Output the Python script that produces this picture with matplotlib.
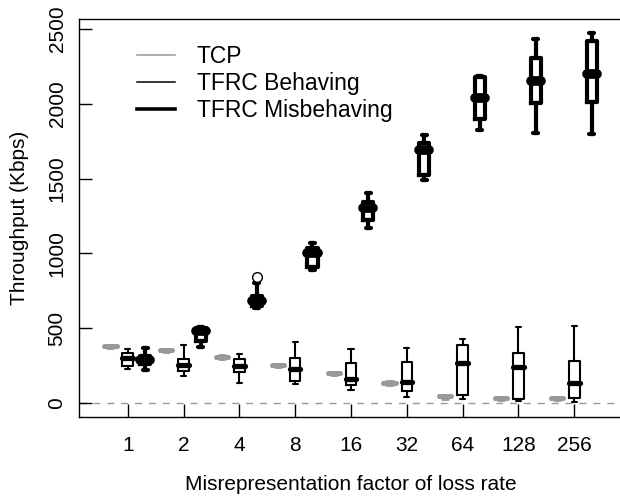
import numpy as np
import matplotlib
matplotlib.use("Agg")
import matplotlib.pyplot as plt
from matplotlib.lines import Line2D

plt.rcParams['font.family'] = ['Liberation Sans', 'DejaVu Sans']

factors = ['1', '2', '4', '8', '16', '32', '64', '128', '256']

# box stats per factor (Kbps): lower whisker, q1, median, q3, upper whisker
tcp_lo  = [366, 339, 292, 239, 188, 122, 28, 18, 20]
tcp_q1  = [372, 345, 299, 245, 194, 128, 40, 25, 27]
tcp_med = [378, 351, 307, 251, 200, 134, 46, 31, 33]
tcp_q3  = [384, 357, 315, 257, 206, 140, 52, 36, 38]
tcp_hi  = [388, 361, 320, 261, 210, 144, 56, 39, 41]

beh_lo  = [229, 182, 136, 129, 87, 42, 27, 15, 9]
beh_q1  = [247, 216, 209, 149, 120, 80, 53, 25, 31]
beh_med = [299, 254, 247, 227, 160, 138, 265, 243, 136]
beh_q3  = [336, 292, 292, 299, 269, 276, 388, 332, 283]
beh_hi  = [361, 388, 325, 410, 359, 370, 426, 510, 517]

mis_lo  = [220, 376, 635, 889, 1168, 1491, 1825, 1803, 1798]
mis_q1  = [262, 415, 650, 911, 1223, 1524, 1896, 2003, 2010]
mis_med = [287, 480, 682, 1005, 1301, 1691, 2041, 2154, 2199]
mis_q3  = [316, 500, 715, 1036, 1346, 1740, 2177, 2304, 2422]
mis_hi  = [366, 510, 800, 1071, 1406, 1791, 2188, 2431, 2471]
mis_out = [[], [], [844], [], [], [], [], [], []]

grey = '#999999'


def make_stats(lo, q1, med, q3, hi, out=None):
    stats = []
    for i in range(len(lo)):
        stats.append(dict(whislo=lo[i], q1=q1[i], med=med[i], q3=q3[i],
                          whishi=hi[i], fliers=out[i] if out else []))
    return stats


fig = plt.figure(figsize=(6.2, 4.98), dpi=100)
ax = fig.add_axes([79 / 620, 81 / 498, 544 / 620, 398 / 498])

pos = np.arange(1, len(factors) + 1)
off = 0.31


def draw(stats, x, width, color, lw, medlw, flier=None):
    box = dict(color=color, linewidth=lw, solid_joinstyle='round')
    ax.bxp(stats, positions=x, widths=width, capwidths=width * 0.5,
           showfliers=True, patch_artist=False, manage_ticks=False,
           boxprops=box,
           whiskerprops=dict(color=color, linewidth=lw, linestyle='-'),
           capprops=dict(color=color, linewidth=lw, solid_capstyle='round'),
           medianprops=dict(color=color, linewidth=medlw, solid_capstyle='round'),
           flierprops=flier or dict(marker='o'))


ax.axhline(0, color=grey, lw=1.0, dashes=(5, 5), zorder=0)

draw(make_stats(tcp_lo, tcp_q1, tcp_med, tcp_q3, tcp_hi), pos - off, 0.22,
     grey, 2.0, 3.6)
draw(make_stats(beh_lo, beh_q1, beh_med, beh_q3, beh_hi), pos, 0.19,
     'black', 1.5, 3.8)
draw(make_stats(mis_lo, mis_q1, mis_med, mis_q3, mis_hi, mis_out), pos + off, 0.18,
     'black', 3.0, 7.0,
     flier=dict(marker='o', markersize=7, markerfacecolor='white',
                markeredgecolor='black', markeredgewidth=1.0))

ax.set_xlim(0.127, 9.873)
ax.set_ylim(-94, 2567)
ax.set_xticks(pos)
ax.set_xticklabels(factors)
ax.set_yticks([0, 500, 1000, 1500, 2000, 2500])
for lab in ax.get_yticklabels():
    lab.set_rotation(90)
    lab.set_va('center')

ax.tick_params(direction='in', length=9.5, width=1.0, labelsize=15, color='black')
ax.tick_params(axis='y', pad=9)
ax.tick_params(axis='x', pad=14)
for s in ['left', 'top', 'bottom', 'right']:
    ax.spines[s].set_linewidth(1.0)

ax.set_xlabel('Misrepresentation factor of loss rate', fontsize=15, labelpad=14)
ax.set_ylabel('Throughput (Kbps)', fontsize=15, labelpad=13)

handles = [Line2D([], [], color=grey, lw=1.1),
           Line2D([], [], color='black', lw=1.1),
           Line2D([], [], color='black', lw=2.6)]
ax.legend(handles, ['TCP', 'TFRC Behaving', 'TFRC Misbehaving'],
          loc='upper left', bbox_to_anchor=(137 / 620, 1 - 45 / 498),
          bbox_transform=fig.transFigure, frameon=False, fontsize=16.5,
          handlelength=1.65, handletextpad=0.95, labelspacing=0.17,
          borderpad=0, borderaxespad=0)

fig.savefig('out.png', dpi=100)
